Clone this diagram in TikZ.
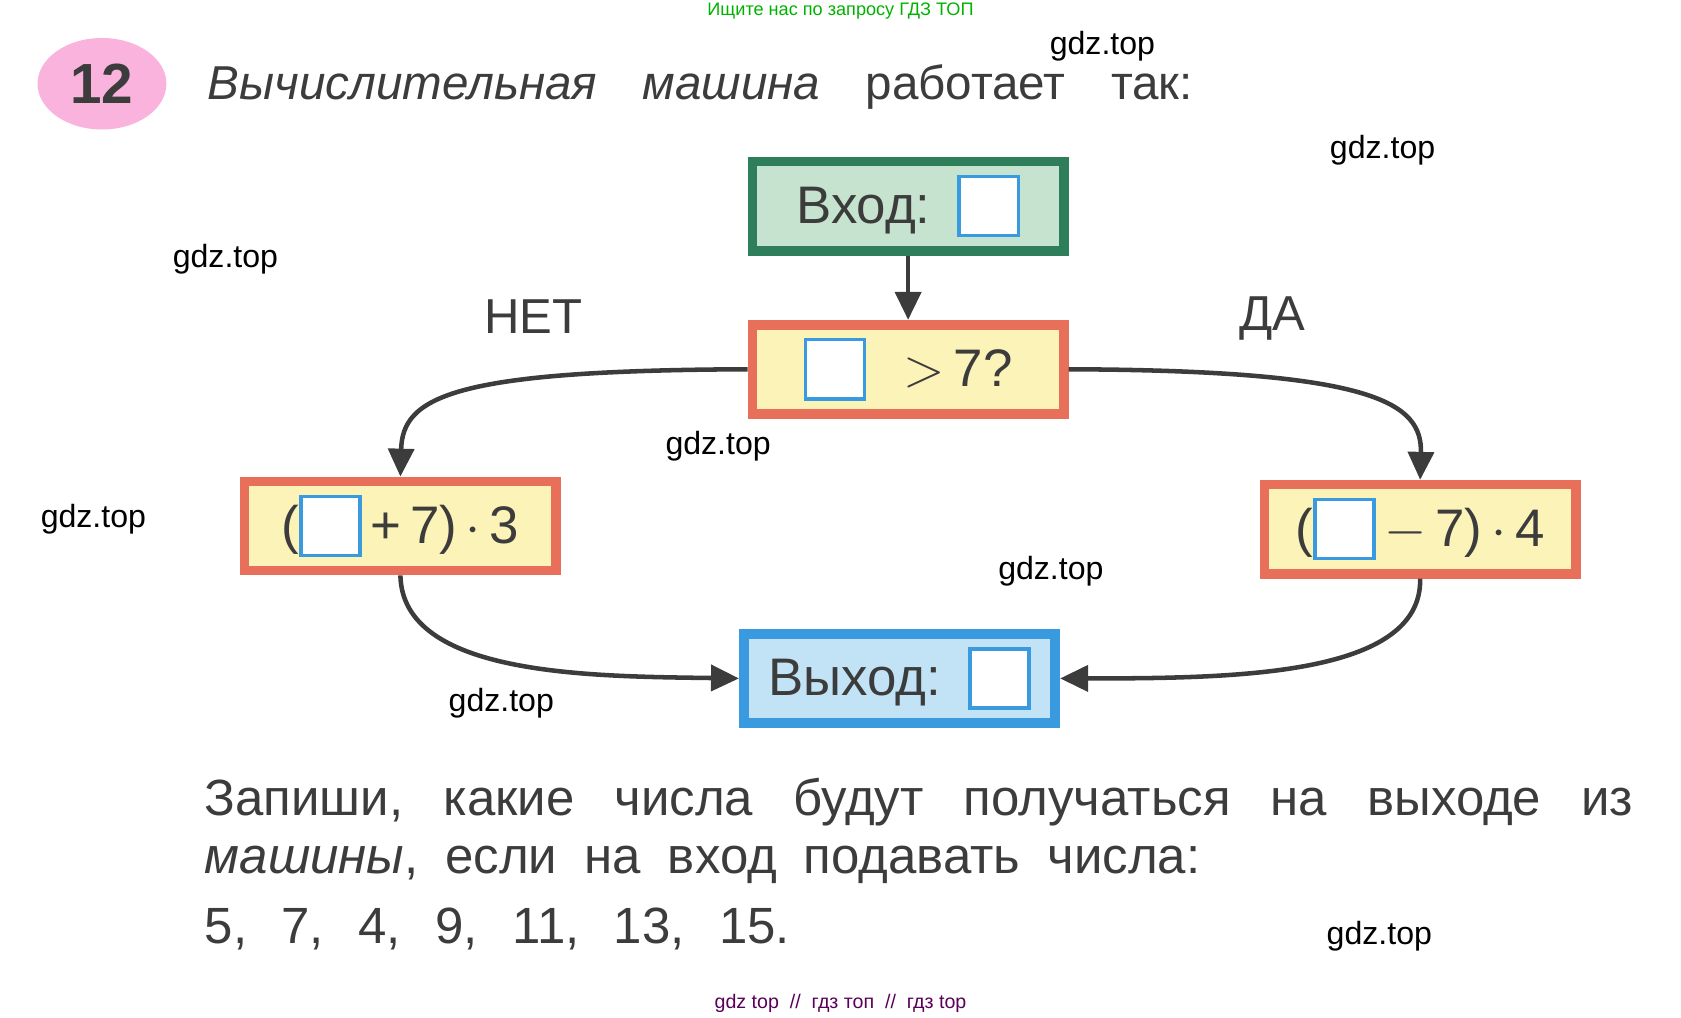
\documentclass[tikz,border=0pt]{standalone}
\usepackage{fontspec}
\setmainfont{Liberation Sans}
\usetikzlibrary{arrows.meta,shapes.geometric}
\definecolor{boxred}{HTML}{E8705A}
\definecolor{boxyel}{HTML}{FCF3B8}
\definecolor{boxgrn}{HTML}{C6E3CF}
\definecolor{darkgrn}{HTML}{2E7D5B}
\definecolor{boxblu}{HTML}{C2E3F6}
\definecolor{lineblu}{HTML}{3A9AE0}
\definecolor{inkgray}{HTML}{3C3C3C}
\tikzset{
  box/.style={draw, line width=0.9mm, minimum width=2.9cm, minimum height=0.83cm, inner sep=0pt, font=\fontsize{14}{16}\selectfont, text=inkgray},
  slot/.style={draw=lineblu, line width=0.9pt, fill=white, minimum size=0.55cm, inner sep=0pt},
  flow/.style={inkgray, line width=1.2pt, -{Triangle[length=2.6mm, width=2.4mm]}},
  wm/.style={font=\fontsize{8.5}{10}\selectfont},
  body/.style={anchor=base west, inner sep=0pt, text=inkgray, font=\fontsize{13.5}{16}\selectfont}
}
\newcommand{\slotbox}{\tikz[baseline=-1.6mm]\node[slot]{};}
\begin{document}
\begin{tikzpicture}[x=0.01cm, y=-0.01cm]
\useasboundingbox (0,0) rectangle (1566,948);
% header
\node (head) at (783,10) [text=green!70!black, font=\fontsize{4.8}{6}\selectfont] {Ищите нас по запросу ГДЗ ТОП};
\node (num) at (95,78) [ellipse, fill=magenta!30, minimum width=1.2cm, minimum height=0.66cm, font=\bfseries\fontsize{15}{16}\selectfont, text=inkgray] {12};
\node (title) at (193,93) [body, font=\fontsize{12.6}{15}\selectfont] {\makebox[9.17cm][s]{\textit{Вычислительная}\hfill\textit{машина}\hfill работает\hfill так:}};
% boxes
\node (in)   at (846,192) [box, draw=darkgrn, fill=boxgrn] {Вход:\hspace{0.25cm}\slotbox};
\node (test) at (846,344) [box, draw=boxred, fill=boxyel] {\slotbox\hspace{0.35cm}$>$\,7?};
\node (no)   at (373,490) [box, draw=boxred, fill=boxyel] {(\slotbox\,+\,7)\,$\cdot$\,3};
\node (yes)  at (1323,493) [box, draw=boxred, fill=boxyel] {(\slotbox\,$-$\,7)\,$\cdot$\,4};
\node (out)  at (838,632) [box, draw=lineblu, fill=boxblu] {Выход:\hspace{0.25cm}\slotbox};
\node (nolab)  at (497,295) [text=inkgray, font=\fontsize{13}{15}\selectfont] {НЕТ};
\node (yeslab) at (1185,297) [text=inkgray, font=\fontsize{13}{15}\selectfont] {ДА};
% arrows
\draw[flow] (in) -- (test);
\draw[flow] (test.west) .. controls (420,345) and (375,370) .. (no.north);
\draw[flow] (test.east) .. controls (1280,345) and (1325,375) .. (yes.north);
\draw[flow] (no.south) .. controls (375,630) and (550,630) .. (out.west);
\draw[flow] (yes.south) .. controls (1325,630) and (1150,632) .. (out.east);
% task text
\node (line1) at (190,760) [body] {\makebox[13.3cm][s]{Запиши,\hfill какие\hfill числа\hfill будут\hfill получаться\hfill на\hfill выходе\hfill из}};
\node (line2) at (190,814) [body] {\makebox[9.27cm][s]{\textit{машины},\hfill если\hfill на\hfill вход\hfill подавать\hfill числа:}};
\node (line3) at (190,879) [body] {\makebox[5.45cm][s]{5,\hfill 7,\hfill 4,\hfill 9,\hfill 11,\hfill 13,\hfill 15.}};
% watermarks
\foreach \wx/\wy [count=\i] in {1027/43, 1288/140, 210/241, 669/416, 87/484, 979/532, 467/655, 1285/872}
  \node (wm\i) at (\wx,\wy) [wm] {gdz.top};
\node (foot) at (783,935) [text=violet!70!black, font=\fontsize{5.2}{7}\selectfont] {gdz top\ \ //\ \ гдз топ\ \ //\ \ гдз top};
\end{tikzpicture}
\end{document}
